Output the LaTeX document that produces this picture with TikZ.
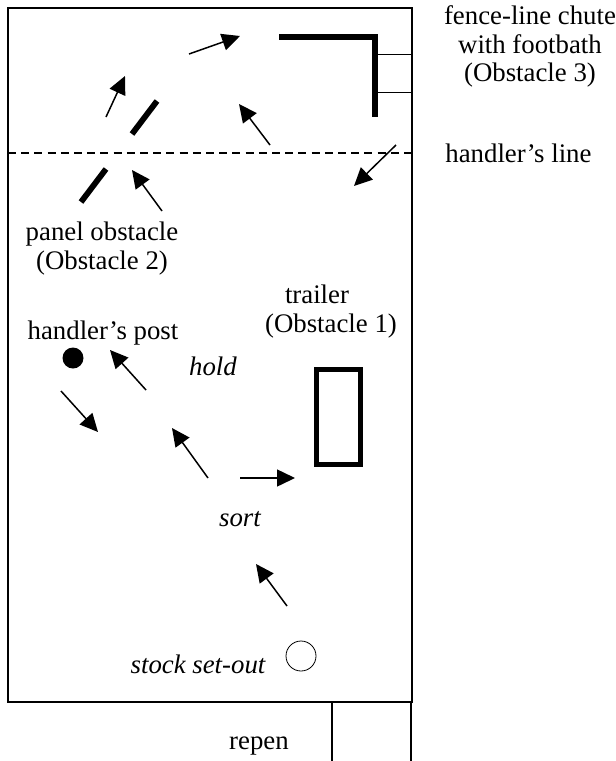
\documentclass[tikz,border=0pt]{standalone}
\usepackage{fontspec}
\setmainfont{Liberation Serif}
\usetikzlibrary{arrows.meta, positioning}

\begin{document}
\begin{tikzpicture}[
  x=0.5pt, y=-0.5pt,
  every node/.style={font=\fontsize{13.4}{14.2}\selectfont, inner sep=0pt, align=center},
  baselabel/.style={anchor=base},
  itlabel/.style={anchor=base, font=\fontsize{13.4}{14.2}\selectfont\itshape},
  flowarrow/.style={-{Triangle[length=9pt, width=8.5pt]}, line width=0.75pt},
  fenceline/.style={line width=0.8pt},
  heavywall/.style={line width=2.9pt},
]
\useasboundingbox (0,0) rectangle (616,761);

% arena and repen
\draw[fenceline] (8,8) rectangle (412,702);
\draw[line width=0.6pt] (332,761) -- (332,702);
\draw[line width=0.6pt] (411,702) -- (411,761);

% handler's line
\draw[dashed, line width=0.7pt, dash pattern=on 4pt off 2.6pt] (8,153) -- (412,153);

% obstacles
\draw[heavywall] (279,37) -- (375,37) -- (375,117);
\draw[line width=0.5pt] (375,54) -- (412,54);
\draw[line width=0.5pt] (375,92) -- (412,92);
\draw[heavywall] (157,101) -- (132,134);
\draw[heavywall] (106,169) -- (81,202);
\draw[heavywall] (316.5,369.5) rectangle (360.5,464.5);

% markers
\node[circle, fill=black, minimum size=10.5pt] (post) at (73,358) {};
\node[circle, draw, line width=0.4pt, minimum size=15pt] (setout) at (301,656) {};

% course
\draw[flowarrow] (287,606) -- (256,564);
\draw[flowarrow] (240,478) -- (295,478);
\draw[flowarrow] (208,478) -- (172,428);
\draw[flowarrow] (61,391) -- (98,432);
\draw[flowarrow] (146,390) -- (110,350);
\draw[flowarrow] (162,211) -- (132,170);
\draw[flowarrow] (106,117) -- (125,76);
\draw[flowarrow] (189,54) -- (240,36);
\draw[flowarrow] (270,145) -- (239,104);
\draw[flowarrow] (396,145) -- (354,186);

% labels
\node (chutelabel) at (530,46.5) {fence-line chute\\with footbath\\(Obstacle 3)};
\node[baselabel, anchor=base west] (linelabel) at (445,162) {handler’s line};
\node (panellabel) at (102,248.5) {panel obstacle\\(Obstacle 2)};
\node[baselabel] (trailerlabel) at (317,303) {trailer};
\node[baselabel] (obstaclelabel) at (331,332) {(Obstacle 1)};
\node[baselabel] (postlabel) at (103,339) {handler’s post};
\node[itlabel] (holdlabel) at (213,375) {hold};
\node[itlabel] (sortlabel) at (240,526) {sort};
\node[itlabel] (setoutlabel) at (198,673) {stock set-out};
\node[baselabel] (repenlabel) at (259,749) {repen};
\end{tikzpicture}
\end{document}
